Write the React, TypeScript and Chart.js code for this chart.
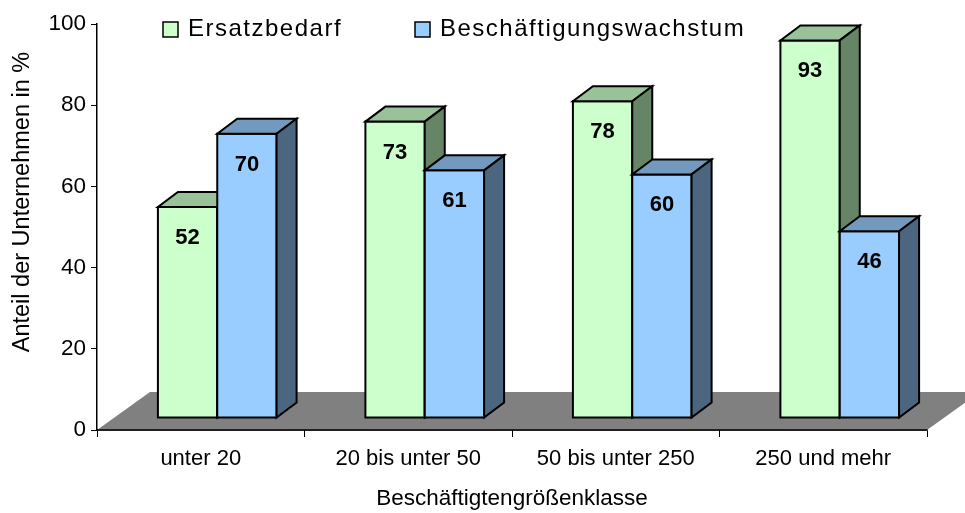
import React, { useEffect, useRef } from "react";
import { Chart, registerables } from "chart.js";

Chart.register(...registerables);

const categories = ["unter 20", "20 bis unter 50", "50 bis unter 250", "250 und mehr"];
const seriesNames = ["Ersatzbedarf", "Beschäftigungswachstum"];
const ersatzbedarf = [52, 73, 78, 93];
const wachstum = [70, 61, 60, 46];
const yTicks = [0, 20, 40, 60, 80, 100];
const xTitle = "Beschäftigtengrößenklasse";
const yTitle = "Anteil der Unternehmen in %";

const FONT = "'Liberation Sans', Arial, sans-serif";
const faces = [
  { front: "#CCFFCC", top: "#99C299", side: "#668566" },
  { front: "#99CCFF", top: "#7399BF", side: "#4D6680" },
];

const SX = 16.5, SY = -12; // bar plane offset from front of floor
const DX = 20, DY = -15; // bar depth
const FDX = 53, FDY = -38; // floor depth

const threeD = {
  id: "threeD",
  beforeDatasetsDraw(chart: any) {
    const { ctx, chartArea } = chart;
    const y0 = chart.scales.y.getPixelForValue(0);
    const l = chartArea.left, r = chartArea.right;
    ctx.save();
    ctx.fillStyle = "#808080";
    ctx.beginPath();
    ctx.moveTo(l, y0);
    ctx.lineTo(r, y0);
    ctx.lineTo(r + FDX, y0 + FDY);
    ctx.lineTo(l + FDX, y0 + FDY);
    ctx.closePath();
    ctx.fill();
    ctx.strokeStyle = "#000";
    ctx.lineWidth = 1.5;
    ctx.beginPath();
    ctx.moveTo(l, y0);
    ctx.lineTo(r, y0);
    ctx.stroke();
    ctx.restore();
  },
  afterDatasetsDraw(chart: any) {
    const { ctx } = chart;
    const metas = [chart.getDatasetMeta(0), chart.getDatasetMeta(1)];
    ctx.save();
    ctx.lineJoin = "miter";
    ctx.lineWidth = 2;
    ctx.strokeStyle = "#000";
    for (let i = 0; i < categories.length; i++) {
      for (let d = 0; d < 2; d++) {
        const el: any = metas[d].data[i];
        const c = faces[d];
        const x0 = el.x - el.width / 2 + SX;
        const x1 = el.x + el.width / 2 + SX;
        const yt = el.y + SY;
        const yb = el.base + SY;
        // front
        ctx.fillStyle = c.front;
        ctx.beginPath();
        ctx.rect(x0, yt, x1 - x0, yb - yt);
        ctx.fill();
        ctx.stroke();
        // top
        ctx.fillStyle = c.top;
        ctx.beginPath();
        ctx.moveTo(x0, yt);
        ctx.lineTo(x1, yt);
        ctx.lineTo(x1 + DX, yt + DY);
        ctx.lineTo(x0 + DX, yt + DY);
        ctx.closePath();
        ctx.fill();
        ctx.stroke();
        // side
        ctx.fillStyle = c.side;
        ctx.beginPath();
        ctx.moveTo(x1, yt);
        ctx.lineTo(x1 + DX, yt + DY);
        ctx.lineTo(x1 + DX, yb + DY);
        ctx.lineTo(x1, yb);
        ctx.closePath();
        ctx.fill();
        ctx.stroke();
        // label
        const v = chart.data.datasets[d].data[i];
        ctx.fillStyle = "#000";
        ctx.font = `bold 22px ${FONT}`;
        ctx.textAlign = "center";
        ctx.textBaseline = "middle";
        ctx.fillText(String(v), (x0 + x1) / 2, yt + 31);
      }
    }
    ctx.restore();
  },
  afterDraw(chart: any) {
    const { ctx } = chart;
    ctx.save();
    // legend
    const items = [
      { x: 163, tx: 188 },
      { x: 415, tx: 440 },
    ];
    ctx.font = `24px ${FONT}`;
    (ctx as any).letterSpacing = "1.5px";
    ctx.textBaseline = "middle";
    ctx.textAlign = "left";
    items.forEach((it, k) => {
      ctx.fillStyle = faces[k].front;
      ctx.fillRect(it.x, 22, 15, 15);
      ctx.strokeStyle = "#000";
      ctx.lineWidth = 1.5;
      ctx.strokeRect(it.x, 22, 15, 15);
      ctx.fillStyle = "#000";
      ctx.fillText(seriesNames[k], it.tx, 29);
    });
    (ctx as any).letterSpacing = "0px";
    // y title
    ctx.translate(23, 202);
    ctx.rotate(-Math.PI / 2);
    ctx.textAlign = "center";
    ctx.font = `23.5px ${FONT}`;
    ctx.fillText(yTitle, 0, 0);
    ctx.restore();
  },
};

export default function App() {
  const ref = useRef<HTMLCanvasElement | null>(null);
  useEffect(() => {
    if (!ref.current) return;
    const chart = new Chart(ref.current, {
      type: "bar",
      data: {
        labels: categories,
        datasets: [
          { label: seriesNames[0], data: ersatzbedarf, backgroundColor: "rgba(0,0,0,0)", borderWidth: 0 },
          { label: seriesNames[1], data: wachstum, backgroundColor: "rgba(0,0,0,0)", borderWidth: 0 },
        ],
      },
      options: {
        animation: false,
        responsive: false,
        devicePixelRatio: 1,
        datasets: { bar: { categoryPercentage: 0.572, barPercentage: 1 } },
        layout: { padding: { top: 24, right: 38, left: 0, bottom: 0 } },
        plugins: { legend: { display: false }, tooltip: { enabled: false } },
        scales: {
          x: {
            grid: { offset: true, drawOnChartArea: false, drawTicks: true, tickLength: 7, color: "#000" },
            border: { display: true, color: "#000", width: 1.5 },
            ticks: { color: "#000", font: { family: FONT, size: 22 }, padding: 9, maxRotation: 0 },
            title: { display: true, text: xTitle, color: "#000", font: { family: FONT, size: 22.5 }, padding: { top: 0, bottom: 1 } },
            afterFit: (s: any) => { s.height = 83; },
          },
          y: {
            min: 0,
            max: 100,
            afterBuildTicks: (s: any) => { s.ticks = yTicks.map((v) => ({ value: v })); },
            grid: { drawOnChartArea: false, drawTicks: true, tickLength: 6, color: "#000" },
            border: { display: true, color: "#000", width: 1.5 },
            ticks: { color: "#000", font: { family: FONT, size: 22.5 }, padding: 5 },
            afterFit: (s: any) => { s.width = 97; },
          },
        },
      },
      plugins: [threeD],
    });
    return () => chart.destroy();
  }, []);
  return (
    <div style={{ position: "absolute", left: 0, top: 0, width: 965, height: 513, background: "#fff" }}>
      <canvas ref={ref} width={965} height={513} />
    </div>
  );
}
